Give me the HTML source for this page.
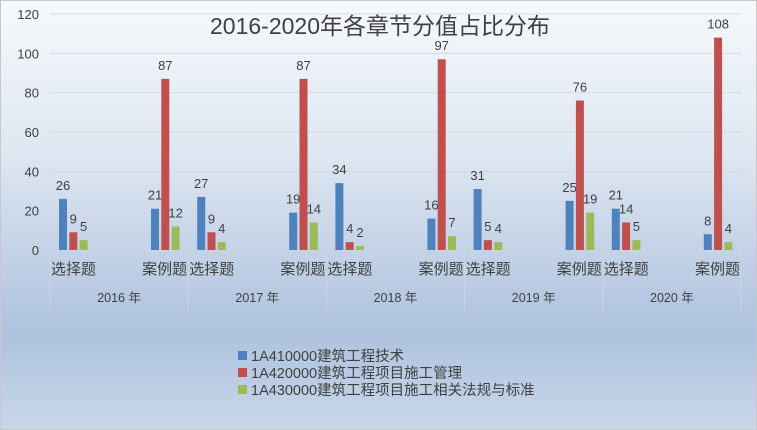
<!DOCTYPE html>
<html><head><meta charset="utf-8"><style>
body{margin:0}
#c{position:relative;width:757px;height:430px;overflow:hidden;font-family:"Liberation Sans","Noto Sans CJK SC",sans-serif;
background:linear-gradient(#f6f9fc 0px,#dfe7f2 150px,#b3c6e0 310px,#b0c4df 340px,#c9d7ea 430px);box-sizing:border-box;border:1px solid #c8c8c8}
</style></head><body>
<div id="c">
<svg id="s" width="757" height="430"></svg>
</div>
<script>
const years=["2016 年","2017 年","2018 年","2019 年","2020 年"];
const types=["选择题","案例题"];
const seriesNames=["1A410000建筑工程技术","1A420000建筑工程项目施工管理","1A430000建筑工程项目施工相关法规与标准"];
const s1=[26,21,27,19,34,16,31,25,21,8];
const s2=[9,87,9,87,4,97,5,76,14,108];
const s3=[5,12,4,14,2,7,4,19,5,4];
const ticks=[0,20,40,60,80,100,120];
const colors=["#4f81bd","#c0504d","#9bbb59"];
const svg=document.getElementById('s');const NS="http://www.w3.org/2000/svg";
function el(t,a,txt){const e=document.createElementNS(NS,t);for(const k in a)e.setAttribute(k,a[k]);if(txt!==undefined)e.textContent=txt;svg.appendChild(e);return e;}
const x0=49,x1=740,y0=249,yTop=13,gw=(x1-x0)/5;
const y=v=>y0-(v/120)*(y0-yTop);
ticks.forEach(t=>{
 if(t>0){const g=el('line',{x1:x0,x2:x1,y1:y(t),y2:y(t),stroke:'#d6d9dd','stroke-width':1});
 }
 const l=el('text',{x:38,y:y(t)+5,'text-anchor':'end','font-size':13,fill:'#404040'},t);
 
});
const ax=el('line',{x1:x0,x2:x1,y1:y0,y2:y0,stroke:'#d0d4d9'});

for(let i=0;i<=5;i++){const v=el('line',{x1:x0+i*gw,x2:x0+i*gw,y1:y0,y2:309,stroke:'#d0d4d9'});
}
const ser=[s1,s2,s3];
for(let c=0;c<10;c++){
 const g=Math.floor(c/2),k=c%2;
 const base=x0+g*gw+(k?101:9);
 ser.forEach((arr,si)=>{
  const bx=base+si*10.3,h=y0-y(arr[c]);
  const r=el('rect',{x:bx,y:y(arr[c]),width:8,height:h,fill:colors[si]});
  
  const t=el('text',{x:bx+4,y:y(arr[c])-9,'text-anchor':'middle','font-size':13,fill:'#404040'},arr[c]);
  
 });
 const cl=el('text',{x:k?x0+g*gw+gw-1:x0+g*gw+1,y:273,'text-anchor':k?'end':'start','font-size':15,fill:'#404040'},types[k]);
 
}
years.forEach((yr,i)=>{const t=el('text',{x:x0+i*gw+gw/2,y:301,'text-anchor':'middle','font-size':12.5,fill:'#404040'},yr);
});
const ti=el('text',{x:379,y:33,'text-anchor':'middle','font-size':23,fill:'#404040'},'2016-2020年各章节分值占比分布');

seriesNames.forEach((n,i)=>{
 const r=el('rect',{x:237,y:350+i*17,width:9,height:9,fill:colors[i]});
 
 const t=el('text',{x:250,y:360+i*17,'font-size':14.5,fill:'#404040'},n);
 
});
</script>
</body></html>
